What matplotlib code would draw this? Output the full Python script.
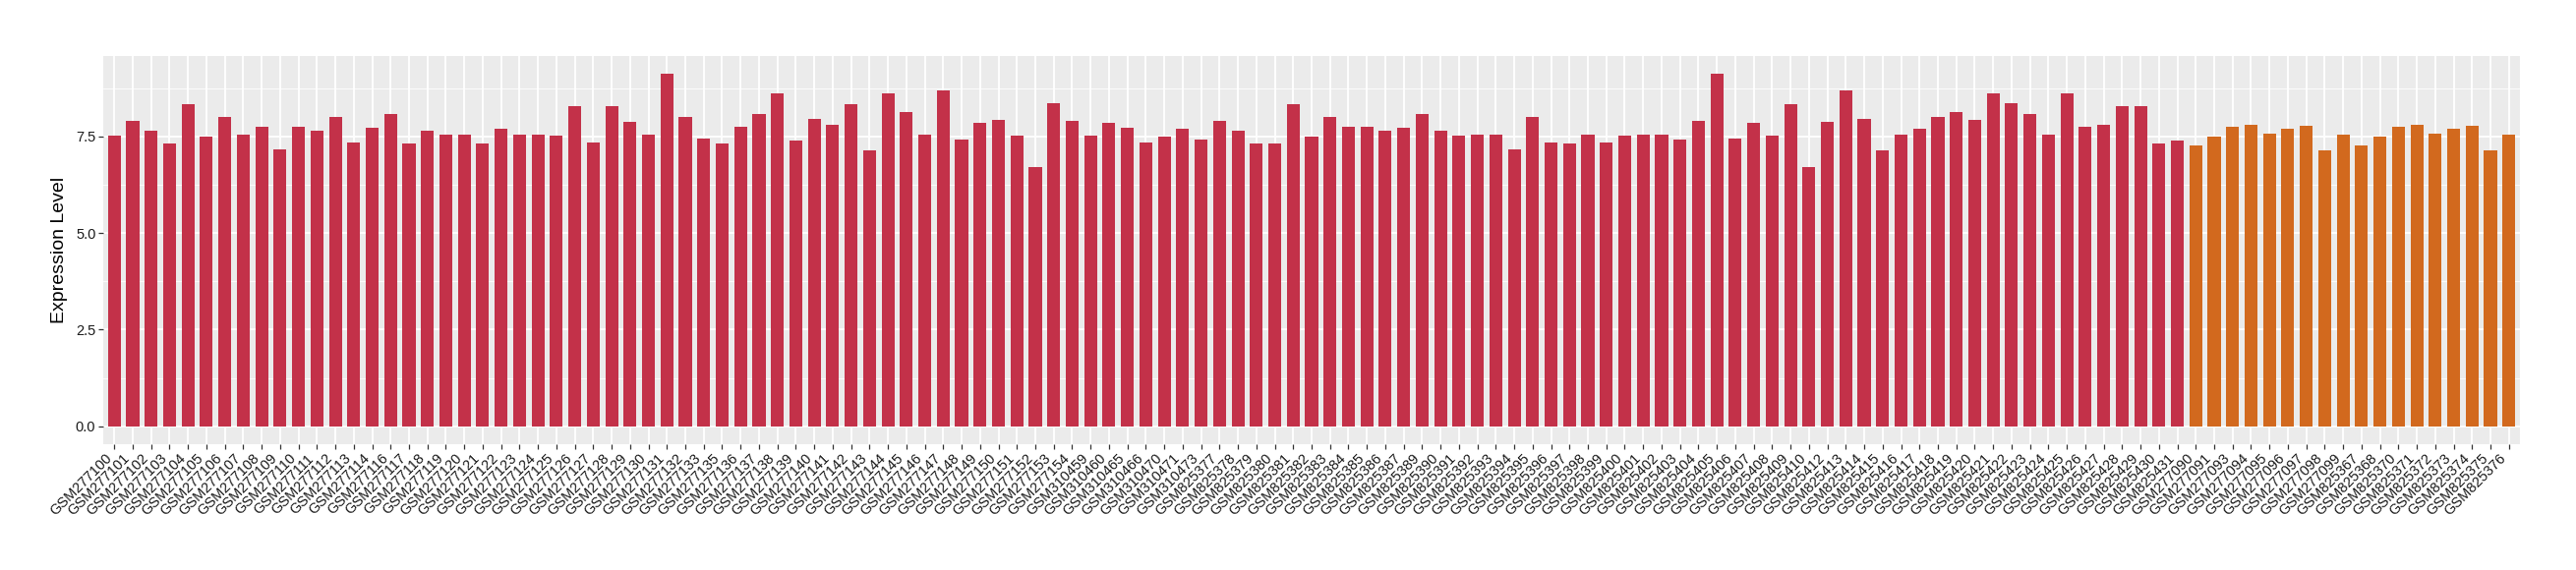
#!/usr/bin/env python3

import numpy as np
import matplotlib
matplotlib.use('Agg')
import matplotlib.pyplot as plt

plt.rcParams['font.family'] = ['Liberation Sans', 'DejaVu Sans']

# samples, in plotting order
samples_a = (
    ['GSM2771%02d' % k for k in range(0, 15)]
    + ['GSM2771%02d' % k for k in range(16, 34)]
    + ['GSM2771%02d' % k for k in range(35, 55)]
    + ['GSM310459', 'GSM310460', 'GSM310465', 'GSM310466',
       'GSM310470', 'GSM310471', 'GSM310473']
    + ['GSM8253%02d' % k for k in range(77, 88)]
    + ['GSM8253%02d' % k for k in range(89, 100)]
    + ['GSM8254%02d' % k for k in range(0, 11)]
    + ['GSM8254%02d' % k for k in range(12, 32)]
)
samples_b = [
    'GSM277090', 'GSM277091', 'GSM277093', 'GSM277094', 'GSM277095',
    'GSM277096', 'GSM277097', 'GSM277098', 'GSM277099',
    'GSM825367', 'GSM825368', 'GSM825370', 'GSM825371', 'GSM825372',
    'GSM825373', 'GSM825374', 'GSM825375', 'GSM825376',
]

values_a = [
    7.53, 7.91, 7.65, 7.32, 8.34, 7.50, 8.01, 7.55, 7.76, 7.17,
    7.76, 7.65, 7.99, 7.35, 7.73, 8.09, 7.32, 7.65, 7.55, 7.55,
    7.32, 7.71, 7.55, 7.55, 7.53, 8.29, 7.35, 8.27, 7.88, 7.55,
    9.13, 7.99, 7.45, 7.32, 7.76, 8.09, 8.60, 7.40, 7.96, 7.81,
    8.34, 7.15, 8.62, 8.14, 7.55, 8.70, 7.43, 7.86, 7.93, 7.53,
    6.71, 8.37, 7.91, 7.53, 7.86, 7.73, 7.35, 7.50, 7.71, 7.43,
    7.91, 7.65, 7.32, 7.32, 8.34, 7.50, 8.01, 7.76, 7.76, 7.65,
    7.73, 8.09, 7.65, 7.53, 7.55, 7.55, 7.17, 7.99, 7.35, 7.32,
    7.55, 7.35, 7.53, 7.55, 7.55, 7.43, 7.91, 9.13, 7.45, 7.86,
    7.53, 8.34, 6.71, 7.88, 8.70, 7.96, 7.15, 7.55, 7.71, 7.99,
    8.14, 7.93, 8.60, 8.37, 8.09, 7.55, 8.62, 7.76, 7.81, 8.29,
    8.27, 7.32, 7.40,
]
values_b = [
    7.27, 7.50, 7.76, 7.81, 7.58, 7.71, 7.78, 7.15, 7.55,
    7.27, 7.50, 7.76, 7.81, 7.58, 7.71, 7.78, 7.15, 7.55,
]

color_a = '#C33149'
color_b = '#D2691E'

labels = samples_a + samples_b
values = values_a + values_b
colors = [color_a] * len(values_a) + [color_b] * len(values_b)
x = np.arange(len(labels))

fig = plt.figure(figsize=(26.2, 5.8), dpi=100)
ax = fig.add_axes([105 / 2620, 1 - 451.7 / 580, (2563 - 105) / 2620, (451.7 - 56.7) / 580])

ax.set_facecolor('#EBEBEB')
ax.bar(x, values, width=0.7, color=colors, zorder=3)

ymax = max(values)
ax.set_xlim(-0.6, len(labels) - 1 + 0.6)
ax.set_ylim(-0.05 * ymax, 1.05 * ymax)

ax.set_yticks([0, 2.5, 5.0, 7.5])
ax.set_yticklabels(['0.0', '2.5', '5.0', '7.5'])
ax.set_yticks([1.25, 3.75, 6.25, 8.75], minor=True)
ax.set_xticks(x)
ax.set_xticklabels(labels, rotation=45, ha='right', va='top', fontsize=10.5,
                   color='#1A1A1A')

ax.grid(True, which='major', color='white', linewidth=1.3, zorder=0)
ax.grid(True, which='minor', axis='y', color='white', linewidth=0.6, zorder=0)
ax.set_axisbelow(True)

ax.tick_params(axis='both', which='major', length=3.5, width=0.9, color='#333333',
               labelsize=10.5, labelcolor='#1A1A1A', pad=2)
ax.tick_params(axis='both', which='minor', length=0)
for s in ax.spines.values():
    s.set_visible(False)

ax.set_ylabel('Expression Level', fontsize=14, labelpad=6)

fig.savefig('out.png', dpi=100)
